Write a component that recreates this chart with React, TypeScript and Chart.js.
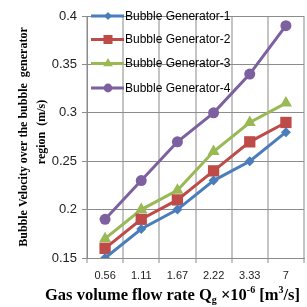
import React, { useEffect, useRef } from 'react';
import { Chart, registerables } from 'chart.js';

Chart.register(...registerables);

const categories = ['0.56', '1.11', '1.67', '2.22', '3.33', '7'];
const gen1 = [0.15, 0.18, 0.2, 0.23, 0.25, 0.28];
const gen2 = [0.16, 0.19, 0.21, 0.24, 0.27, 0.29];
const gen3 = [0.17, 0.2, 0.22, 0.26, 0.29, 0.31];
const gen4 = [0.19, 0.23, 0.27, 0.3, 0.34, 0.39];
const seriesNames = ['Bubble Generator-1', 'Bubble Generator-2', 'Bubble Generator-3', 'Bubble Generator-4'];
const seriesValues = [gen1, gen2, gen3, gen4];
const seriesColors = ['#4a7ebb', '#be4b48', '#98b954', '#7d60a0'];
const seriesStyles = ['rectRot', 'rect', 'triangle', 'circle'];
const seriesRadii = [5, 8, 7, 5.5];
const yMin = 0.15;
const yMax = 0.4;
const yStep = 0.05;
const yTitleLine1 = 'Bubble Velocity over the bubble  generator';
const yTitleLine2 = 'region  (m/s)';

function drawMarker(ctx: CanvasRenderingContext2D, style: string, x: number, y: number, r: number, color: string) {
  ctx.save();
  ctx.fillStyle = color;
  ctx.beginPath();
  if (style === 'rectRot') {
    ctx.moveTo(x, y - r);
    ctx.lineTo(x + r, y);
    ctx.lineTo(x, y + r);
    ctx.lineTo(x - r, y);
    ctx.closePath();
  } else if (style === 'rect') {
    const s = Math.SQRT1_2 * r;
    ctx.rect(x - s, y - s, 2 * s, 2 * s);
  } else if (style === 'triangle') {
    ctx.moveTo(x, y - r);
    ctx.lineTo(x + r * 0.866, y + r * 0.5);
    ctx.lineTo(x - r * 0.866, y + r * 0.5);
    ctx.closePath();
  } else {
    ctx.arc(x, y, r, 0, Math.PI * 2);
  }
  ctx.fill();
  ctx.restore();
}

const overlayPlugin = {
  id: 'overlay',
  afterDraw(chart: any) {
    const ctx: CanvasRenderingContext2D = chart.ctx;
    // Legend
    ctx.save();
    const rowY = [16, 39.5, 63.5, 88];
    seriesNames.forEach((name, i) => {
      const y = rowY[i];
      ctx.strokeStyle = seriesColors[i];
      ctx.lineWidth = 3;
      ctx.beginPath();
      ctx.moveTo(91, y);
      ctx.lineTo(124, y);
      ctx.stroke();
      drawMarker(ctx, seriesStyles[i], 108, y, seriesRadii[i] * 0.8, seriesColors[i]);
      ctx.fillStyle = '#000';
      ctx.font = '12px "Liberation Sans", Arial, sans-serif';
      ctx.textAlign = 'left';
      ctx.textBaseline = 'middle';
      ctx.fillText(name, 125, y + 0.5);
    });
    ctx.restore();

    // Y title (rotated)
    const yFont = 'bold 12px "Liberation Serif", "Times New Roman", serif';
    ctx.save();
    ctx.fillStyle = '#000';
    ctx.font = yFont;
    ctx.textAlign = 'center';
    ctx.textBaseline = 'middle';
    ctx.translate(24, 137);
    ctx.rotate(-Math.PI / 2);
    ctx.fillText(yTitleLine1, 0, 0);
    ctx.restore();
    ctx.save();
    ctx.fillStyle = '#000';
    ctx.font = yFont;
    ctx.textAlign = 'center';
    ctx.textBaseline = 'middle';
    ctx.translate(42, 132);
    ctx.rotate(-Math.PI / 2);
    ctx.fillText(yTitleLine2, 0, 0);
    ctx.restore();

    // X title with sub/superscripts
    ctx.save();
    ctx.fillStyle = '#000';
    ctx.textAlign = 'left';
    ctx.textBaseline = 'alphabetic';
    const big = 'bold 16.5px "Liberation Serif", "Times New Roman", serif';
    const small = 'bold 10px "Liberation Serif", "Times New Roman", serif';
    const parts: [string, string, number][] = [
      ['Gas volume flow rate Q', big, 0],
      ['g', small, 3],
      [' \u00d710', big, 0],
      ['-6', small, -7],
      [' [m', big, 0],
      ['3', small, -7],
      ['/s]', big, 0],
    ];
    let x = 45;
    const base = 300;
    parts.forEach(([t, f, dy]) => {
      ctx.font = f;
      ctx.fillText(t, x, base + dy);
      x += ctx.measureText(t).width;
    });
    ctx.restore();
  },
};

export default function App() {
  const ref = useRef<HTMLCanvasElement | null>(null);
  useEffect(() => {
    if (!ref.current) return;
    const chart = new Chart(ref.current, {
      type: 'line',
      data: {
        labels: categories,
        datasets: seriesNames.map((name, i) => ({
          label: name,
          data: seriesValues[i],
          borderColor: seriesColors[i],
          backgroundColor: seriesColors[i],
          pointBackgroundColor: seriesColors[i],
          pointBorderColor: seriesColors[i],
          pointBorderWidth: 0,
          pointStyle: seriesStyles[i] as any,
          pointRadius: seriesRadii[i],
          borderWidth: 3,
          tension: 0,
        })),
      },
      options: {
        responsive: false,
        animation: false,
        events: [],
        layout: { padding: { top: 16, left: 0, right: 0, bottom: 0 } },
        plugins: {
          legend: { display: false },
          tooltip: { enabled: false },
        },
        scales: {
          x: {
            type: 'category',
            offset: true,
            grid: {
              offset: true,
              color: '#c4c4c4',
              lineWidth: 2,
              tickColor: '#8c8c8c',
              tickWidth: 1,
              tickLength: 5,
            },
            border: { color: '#8c8c8c', width: 1 },
            ticks: {
              color: '#222',
              font: { family: '"Liberation Sans", Arial, sans-serif', size: 11 },
              padding: 6,
              maxRotation: 0,
            },
            afterFit: (s: any) => {
              s.height = 49;
            },
          },
          y: {
            min: yMin,
            max: yMax,
            grid: {
              color: '#8c8c8c',
              lineWidth: 1,
              tickLength: 5,
            },
            border: { color: '#8c8c8c', width: 1 },
            ticks: {
              stepSize: yStep,
              color: '#222',
              font: { family: '"Liberation Sans", Arial, sans-serif', size: 13 },
              padding: 5,
              callback: (v: any) => String(Number(Number(v).toFixed(2))),
            },
            afterFit: (s: any) => {
              s.width = 87;
            },
          },
        },
      },
      plugins: [overlayPlugin],
    });
    return () => chart.destroy();
  }, []);
  return (
    <div style={{ position: 'fixed', left: 0, top: 0, width: 307, height: 307, overflow: 'hidden', background: '#fff' }}>
      <canvas ref={ref} width={312} height={307} style={{ display: 'block' }} />
    </div>
  );
}
